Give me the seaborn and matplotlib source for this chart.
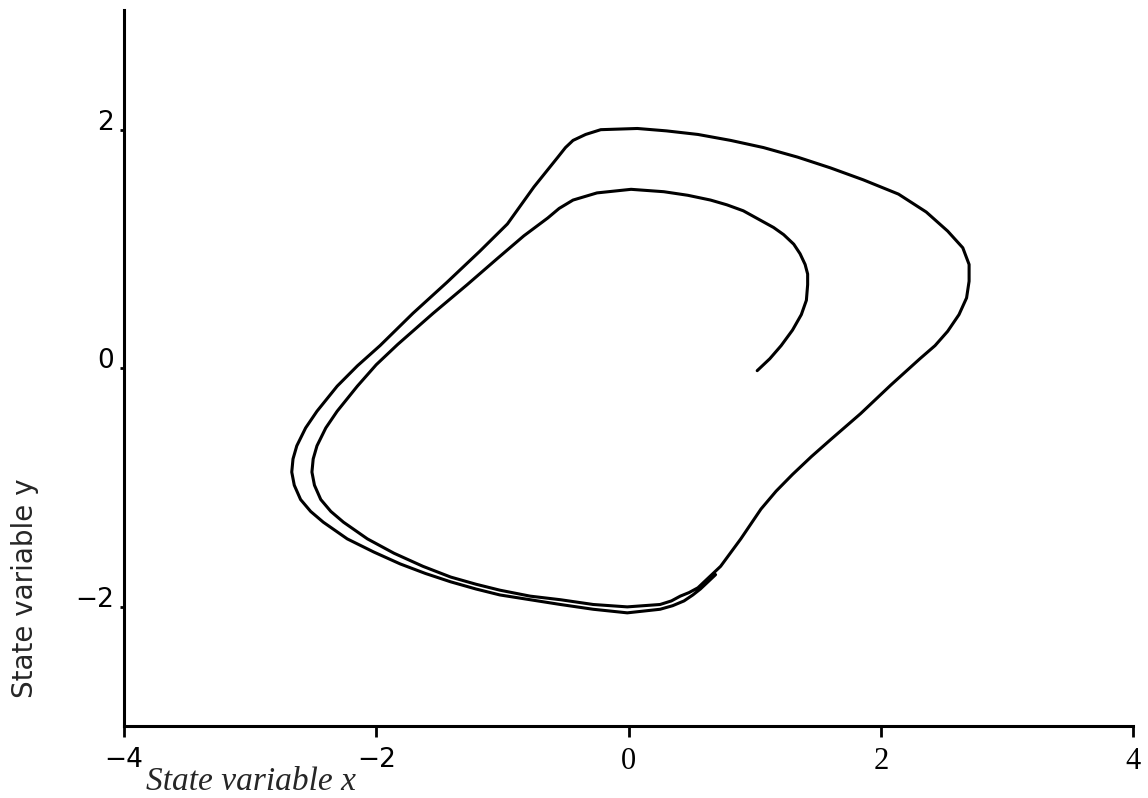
import numpy as np
import matplotlib
matplotlib.use("Agg")
import matplotlib.pyplot as plt
import seaborn as sns
import pandas as pd

# trajectory, in drawing order (starts at (1, 0))
traj_x = [1.02, 1.12, 1.21, 1.30, 1.37, 1.41, 1.42, 1.42, 1.40, 1.36, 1.31,
          1.23, 1.15, 1.03, 0.91, 0.78, 0.65, 0.47, 0.28, 0.02, -0.25, -0.44,
          -0.55, -0.64, -0.83, -1.04, -1.28, -1.55, -1.83, -2.00, -2.15, -2.31,
          -2.40, -2.47, -2.50, -2.51, -2.49, -2.44, -2.36, -2.26, -2.07, -1.86,
          -1.63, -1.41, -1.21, -1.02, -0.78, -0.54, -0.28, -0.01, 0.25, 0.34,
          0.41, 0.48, 0.55, 0.63,
          0.73, 0.89, 1.05, 1.17, 1.30, 1.45, 1.60, 1.84, 2.08, 2.31, 2.43, 2.53,
          2.62, 2.68, 2.70, 2.70, 2.65, 2.53, 2.36, 2.14, 1.86, 1.60, 1.34, 1.07,
          0.81, 0.55, 0.30, 0.07, -0.22, -0.34, -0.44, -0.50, -0.56, -0.75, -0.96,
          -1.18, -1.44, -1.71, -1.97, -2.15, -2.31, -2.47, -2.56, -2.63, -2.66,
          -2.67, -2.65, -2.60, -2.52, -2.42, -2.23, -2.02, -1.81, -1.61, -1.41,
          -1.21, -1.02, -0.78, -0.54, -0.28, -0.01, 0.25, 0.35, 0.44, 0.51, 0.57,
          0.63, 0.69]
traj_y = [-0.02, 0.08, 0.19, 0.32, 0.45, 0.57, 0.70, 0.79, 0.87, 0.96, 1.04,
          1.12, 1.18, 1.25, 1.32, 1.37, 1.41, 1.45, 1.48, 1.50, 1.47, 1.41,
          1.34, 1.26, 1.11, 0.92, 0.70, 0.46, 0.20, 0.03, -0.15, -0.36,
          -0.50, -0.65, -0.76, -0.87, -0.98, -1.10, -1.20, -1.29, -1.43, -1.55,
          -1.66, -1.75, -1.81, -1.86, -1.91, -1.94, -1.98, -2.00, -1.98, -1.95,
          -1.91, -1.88, -1.84, -1.76,
          -1.66, -1.43, -1.18, -1.03, -0.89, -0.74, -0.60, -0.38, -0.14, 0.08, 0.19, 0.31,
          0.45, 0.59, 0.73, 0.87, 1.01, 1.15, 1.31, 1.46, 1.58, 1.68, 1.77, 1.85,
          1.91, 1.96, 1.99, 2.01, 2.00, 1.96, 1.91, 1.85, 1.77, 1.52, 1.21,
          0.98, 0.72, 0.46, 0.19, 0.02, -0.15, -0.36, -0.50, -0.65, -0.76,
          -0.87, -0.98, -1.10, -1.20, -1.29, -1.43, -1.54, -1.64, -1.72, -1.79,
          -1.85, -1.90, -1.94, -1.98, -2.02, -2.05, -2.02, -1.99, -1.95, -1.90, -1.85,
          -1.79, -1.73]

x_ticks = [-4, -2, 0, 2, 4]
y_ticks = [-2, 0, 2]

df = pd.DataFrame({"x": traj_x, "y": traj_y})

sns.set_style("ticks")
fig = plt.figure(figsize=(11.48, 7.98), dpi=100)
ax = fig.add_axes([0.108, 0.09, 0.879, 0.897])

sns.lineplot(data=df, x="x", y="y", sort=False, estimator=None, color="black",
             linewidth=2.2, ax=ax)
for ln in ax.get_lines():
    ln.set_solid_joinstyle("round")
    ln.set_solid_capstyle("round")

ax.set_xlim(-4, 4)
ax.set_ylim(-3, 3)
ax.set_xlabel("")
ax.set_ylabel("")
for s in ["top", "right"]:
    ax.spines[s].set_visible(False)
for s in ["left", "bottom"]:
    ax.spines[s].set_linewidth(2.2)
    ax.spines[s].set_color("black")

ax.set_xticks(x_ticks)
ax.set_yticks(y_ticks)
ax.set_xticklabels(["\u22124", "\u22122", "0", "2", "4"])
ax.set_yticklabels(["\u22122", "0", "2"])
ax.tick_params(axis="x", direction="out", length=8, width=2, pad=7, colors="black")
ax.tick_params(axis="y", direction="out", length=3, width=2, pad=4, colors="black")

for lab in ax.get_xticklabels():
    if lab.get_text().startswith("\u2212"):
        lab.set_fontfamily("DejaVu Sans")
        lab.set_fontsize(19)
    else:
        lab.set_fontfamily("Liberation Serif")
        lab.set_fontsize(22)
for lab in ax.get_yticklabels():
    lab.set_fontfamily("DejaVu Sans")
    lab.set_fontsize(19)
    lab.set_verticalalignment("baseline")

fig.text(146 / 1148, 1 - 790 / 798, "State variable x", fontsize=24,
         family="Liberation Serif", style="italic", ha="left", va="baseline")
fig.text(25 / 1148, 1 - 588 / 798, "State variable y", fontsize=20,
         family="DejaVu Sans", rotation=90, ha="center", va="center")

fig.savefig("out.png", dpi=100)
